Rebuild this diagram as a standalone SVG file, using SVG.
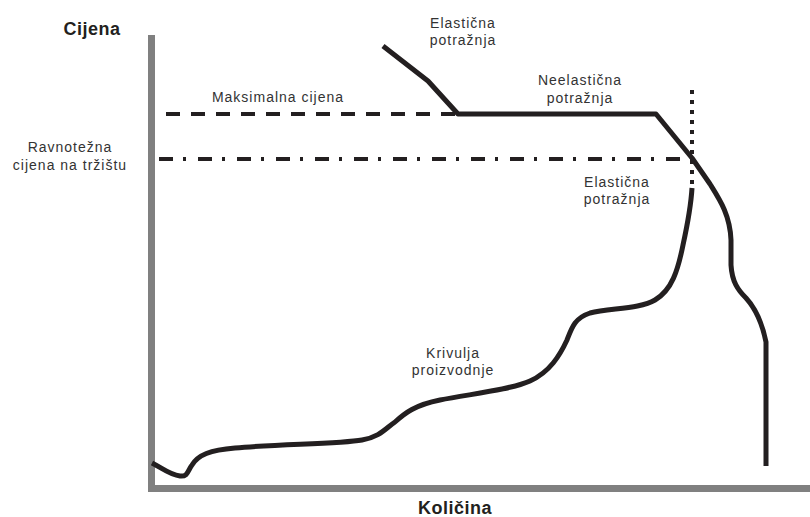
<svg xmlns="http://www.w3.org/2000/svg" width="810" height="517" viewBox="0 0 810 517">
  <style>
    .lbl { font-family: "Liberation Sans", Arial, sans-serif; font-size: 14px; fill: #333333; text-anchor: middle; letter-spacing: 1px; }
    .ttl { font-family: "Liberation Sans", Arial, sans-serif; font-size: 18px; font-weight: bold; fill: #231f20; text-anchor: middle; letter-spacing: 0.5px; }
    .axis { stroke: #808080; stroke-width: 7; fill: none; }
    .curve { stroke: #231f20; stroke-width: 5; fill: none; stroke-linejoin: round; }
    .guide { stroke: #231f20; stroke-width: 4; fill: none; }
  </style>
  <rect width="810" height="517" fill="#ffffff"/>

  <!-- axes -->
  <g id="axes">
    <path class="axis" d="M151.5,35 V488.5 H810"/>
    <text class="ttl" x="92" y="35">Cijena</text>
    <text class="ttl" x="455" y="514">Količina</text>
  </g>

  <!-- reference lines -->
  <g id="connectors">
    <line id="max-price" class="guide" x1="155" y1="114" x2="460" y2="114" stroke-dasharray="14 11" stroke-dashoffset="14"/>
    <line id="equilibrium" class="guide" x1="155" y1="159" x2="692" y2="159" stroke-dasharray="14 10 3 12" stroke-dashoffset="35"/>
    <line id="capacity" class="guide" x1="692" y1="90" x2="692" y2="188" stroke-dasharray="4 6"/>
  </g>

  <!-- demand curve -->
  <g id="demand">
    <path class="curve" d="M383,46 L428,81 L458,114 L656,114 L692,158 L710,184 C720,200 730,215 731,240 L731,265 C732,282 738,290 746,298 C756,309 762,322 766,342 L766,466"/>
  </g>

  <!-- supply curve -->
  <g id="supply">
    <path class="curve" d="M152,463 C162,468 170,475 180,476 C188,477 188,470 192,465 C198,455 210,450 235,448 C280,444 340,444 362,440 C380,437 386,428 395,422 C405,413 415,405 440,400 C470,394 510,390 530,381 C550,372 560,355 567,340 C572,327 575,318 590,313 C610,308 640,309 655,300 C672,290 678,270 683,245 C688,222 691,205 692,188"/>
  </g>

  <g id="label-equilibrium">
    <text class="lbl" x="70" y="152">Ravnotežna</text>
    <text class="lbl" x="70" y="170">cijena na tržištu</text>
  </g>
  <g id="label-max">
    <text class="lbl" x="278" y="102">Maksimalna cijena</text>
  </g>
  <g id="label-elastic-top">
    <text class="lbl" x="463" y="28">Elastična</text>
    <text class="lbl" x="463" y="45">potražnja</text>
  </g>
  <g id="label-inelastic">
    <text class="lbl" x="580" y="85">Neelastična</text>
    <text class="lbl" x="580" y="103">potražnja</text>
  </g>
  <g id="label-elastic-right">
    <text class="lbl" x="617" y="187">Elastična</text>
    <text class="lbl" x="617" y="204">potražnja</text>
  </g>
  <g id="label-supply">
    <text class="lbl" x="453" y="358">Krivulja</text>
    <text class="lbl" x="453" y="375">proizvodnje</text>
  </g>
</svg>
